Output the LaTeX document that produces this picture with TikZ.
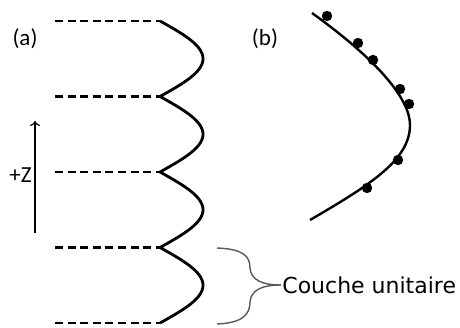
\documentclass[tikz,border=0pt]{standalone}
\usepackage{fontspec}
\newfontfamily\calibri{Carlito}
\newfontfamily\verdana{DejaVu Sans}
\usepackage{tikz}
\usetikzlibrary{arrows.meta, positioning, calc}

\begin{document}
\begin{tikzpicture}[
    x=0.5pt, y=-0.5pt,
    layer/.style={line width=1.1pt, dash pattern=on 4pt off 2.3pt},
    wave/.style={line width=1.4pt, line join=round},
    fitcurve/.style={line width=1.2pt},
    zarrow/.style={-{To[length=2.5pt, width=5pt]}, line width=0.6pt},
    brace/.style={draw=gray!70!black, line width=0.7pt},
    panel/.style={font=\calibri\fontsize{11.5}{13}\selectfont, inner sep=0pt},
]
\useasboundingbox (0,0) rectangle (460,327);

% Layers
\foreach \y in {21, 96.5, 172, 247.5, 323}
  \draw[layer] (55,\y) -- (160,\y);

% Stacking wave
\draw[wave] plot[domain=21:323, samples=241] ({160+43*abs(sin((\x-21)/75.5*180))}, \x);

% Axis
\coordinate (zlow) at (35,233);
\coordinate (zhigh) at (35,121);
\draw[zarrow] (zlow) -- (zhigh);
\node[panel, anchor=east] (zlab) at (32,175) {+Z};

% Panel labels
\node[panel] (pa) at (25,39) {(a)};
\node[panel] (pb) at (265,39) {(b)};

% Fitted profile
\draw[fitcurve] (312,13) .. controls (380,62) and (410,100) .. (410,125)
                .. controls (410,160) and (370,185) .. (310,220);
\foreach \p in {(327,16), (358,43), (373,60), (400,89), (409,104), (398,160), (367,188)}
  \fill \p circle (2.6pt);

% Unit layer
\node[font=\verdana\fontsize{11}{13}\selectfont, inner sep=0.5pt, anchor=west] (unit) at (281,285) {Couche unitaire};
\draw[brace] (217,248) .. controls (243,249) and (250,256) .. (250,268)
             .. controls (251,280) and (262,285) .. (unit.west);
\draw[brace] (217,324) .. controls (243,323) and (250,314) .. (250,302)
             .. controls (251,290) and (262,285) .. (unit.west);
\end{tikzpicture}
\end{document}
